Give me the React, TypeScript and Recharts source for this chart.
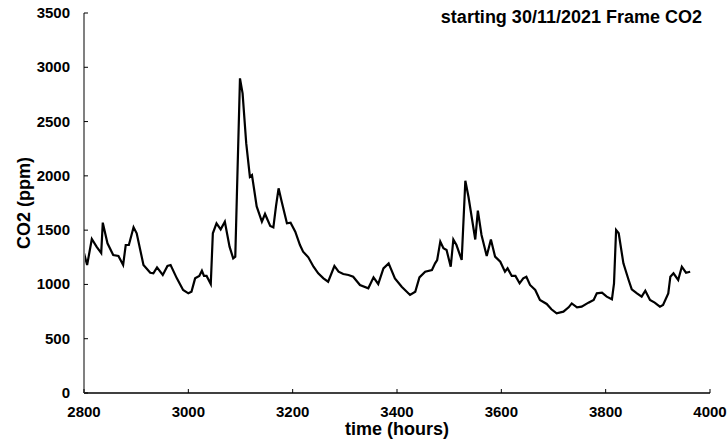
import React from 'react';
import { LineChart, Line, XAxis, YAxis } from 'recharts';

const hours = [
  2800, 2806, 2815, 2824, 2833, 2836, 2845, 2856, 2866, 2875, 2880, 2886, 2895, 2901, 2914, 2927,
  2933, 2940, 2951, 2960, 2966, 2978, 2990, 3000, 3006, 3013, 3021, 3026, 3030, 3035, 3043, 3047,
  3054, 3062, 3070, 3079, 3086, 3090, 3093, 3099, 3104, 3111, 3118, 3122, 3131, 3141, 3147, 3157,
  3163, 3168, 3173, 3179, 3189, 3196, 3205, 3214, 3220, 3230, 3240, 3249, 3259, 3268, 3280, 3288,
  3297, 3307, 3316, 3329, 3345, 3355, 3364, 3374, 3384, 3396, 3409, 3425, 3435, 3443, 3454, 3467,
  3473, 3477, 3483, 3489, 3495, 3503, 3508, 3514, 3524, 3531, 3537, 3550, 3555, 3562, 3572, 3580,
  3588, 3598, 3607, 3612, 3620, 3627, 3635, 3642, 3648, 3655, 3665, 3674, 3687, 3696, 3706, 3719,
  3729, 3735, 3745, 3754, 3767, 3777, 3783, 3793, 3802, 3812, 3816, 3820, 3825, 3834, 3844, 3850,
  3860, 3869, 3876, 3885, 3894, 3904, 3910, 3920, 3924, 3930, 3939, 3946, 3954, 3962,
];

const co2 = [
  1289, 1179, 1418, 1348, 1289, 1569, 1379, 1271, 1262, 1179, 1363, 1363, 1526, 1471, 1179, 1108,
  1102, 1157, 1087, 1170, 1179, 1056, 949, 918, 933, 1056, 1078, 1126, 1078, 1078, 1004, 1471,
  1563, 1507, 1578, 1348, 1240, 1256, 1808, 2898, 2760, 2299, 1992, 2008, 1719, 1578, 1649, 1538,
  1526, 1719, 1885, 1762, 1563, 1569, 1486, 1363, 1302, 1250, 1163, 1102, 1056, 1025, 1170, 1117,
  1096, 1087, 1071, 995, 964, 1065, 1004, 1148, 1194, 1056, 979, 903, 933, 1065, 1117, 1133,
  1194, 1225, 1394, 1333, 1317, 1163, 1414, 1363, 1225, 1955, 1808, 1414, 1679, 1455, 1262, 1414,
  1256, 1209, 1117, 1148, 1078, 1078, 1010, 1056, 1071, 995, 949, 857, 820, 771, 734, 749,
  789, 825, 789, 795, 832, 857, 918, 924, 887, 863, 1010, 1501, 1471, 1194, 1041, 955,
  918, 887, 942, 857, 832, 795, 811, 918, 1071, 1102, 1041, 1163, 1108, 1117,
];

const xTicks = [2800, 3000, 3200, 3400, 3600, 3800, 4000];
const yTicks = [0, 500, 1000, 1500, 2000, 2500, 3000, 3500];

const data = hours.map((h, i) => ({ hours: h, co2: co2[i] }));

const font = '"Liberation Sans", Arial, sans-serif';

// ticks point into the plot, as in the original
const YTick = ({ x, y, payload }: any) => (
  <g>
    <line x1={x} x2={x + 4} y1={y} y2={y} stroke="#000" strokeWidth={1} />
    <text x={x - 14} y={y} dy={5} textAnchor="end" fontFamily={font} fontWeight="bold" fontSize={15} fill="#000">
      {payload.value}
    </text>
  </g>
);

const XTick = ({ x, y, payload }: any) => (
  <g>
    <line x1={x} x2={x} y1={y} y2={y - 4} stroke="#000" strokeWidth={1} />
    <text x={x} y={y + 24} textAnchor="middle" fontFamily={font} fontWeight="bold" fontSize={15} fill="#000">
      {payload.value}
    </text>
  </g>
);

export default function App() {
  return (
    <div style={{ position: 'absolute', left: 0, top: 0, width: 728, height: 446, background: '#fff' }}>
      <LineChart width={728} height={446} data={data} margin={{ top: 13, right: 18, bottom: 23, left: 14 }}>
        <XAxis
          dataKey="hours"
          type="number"
          domain={[2800, 4000]}
          ticks={xTicks}
          interval={0}
          height={30}
          tickSize={0}
          tickMargin={0}
          tickLine={false}
          axisLine={{ stroke: '#000', strokeWidth: 1.5 }}
          tick={<XTick />}
        />
        <YAxis
          type="number"
          domain={[0, 3500]}
          ticks={yTicks}
          interval={0}
          width={70}
          tickSize={0}
          tickMargin={0}
          tickLine={false}
          axisLine={{ stroke: '#808080', strokeWidth: 2 }}
          tick={<YTick />}
        />
        <Line
          dataKey="co2"
          type="linear"
          stroke="#000"
          strokeWidth={2.2}
          dot={false}
          isAnimationActive={false}
        />
        <text x={397} y={435} textAnchor="middle" fontFamily={font} fontWeight="bold" fontSize={18} fill="#000">
          time (hours)
        </text>
        <text
          x={30}
          y={203}
          transform="rotate(-90, 30, 203)"
          textAnchor="middle"
          fontFamily={font}
          fontWeight="bold"
          fontSize={18}
          fill="#000"
        >
          CO2 (ppm)
        </text>
        <text x={702} y={23} textAnchor="end" fontFamily={font} fontWeight="bold" fontSize={18} fill="#000">
          starting 30/11/2021 Frame CO2
        </text>
      </LineChart>
    </div>
  );
}
